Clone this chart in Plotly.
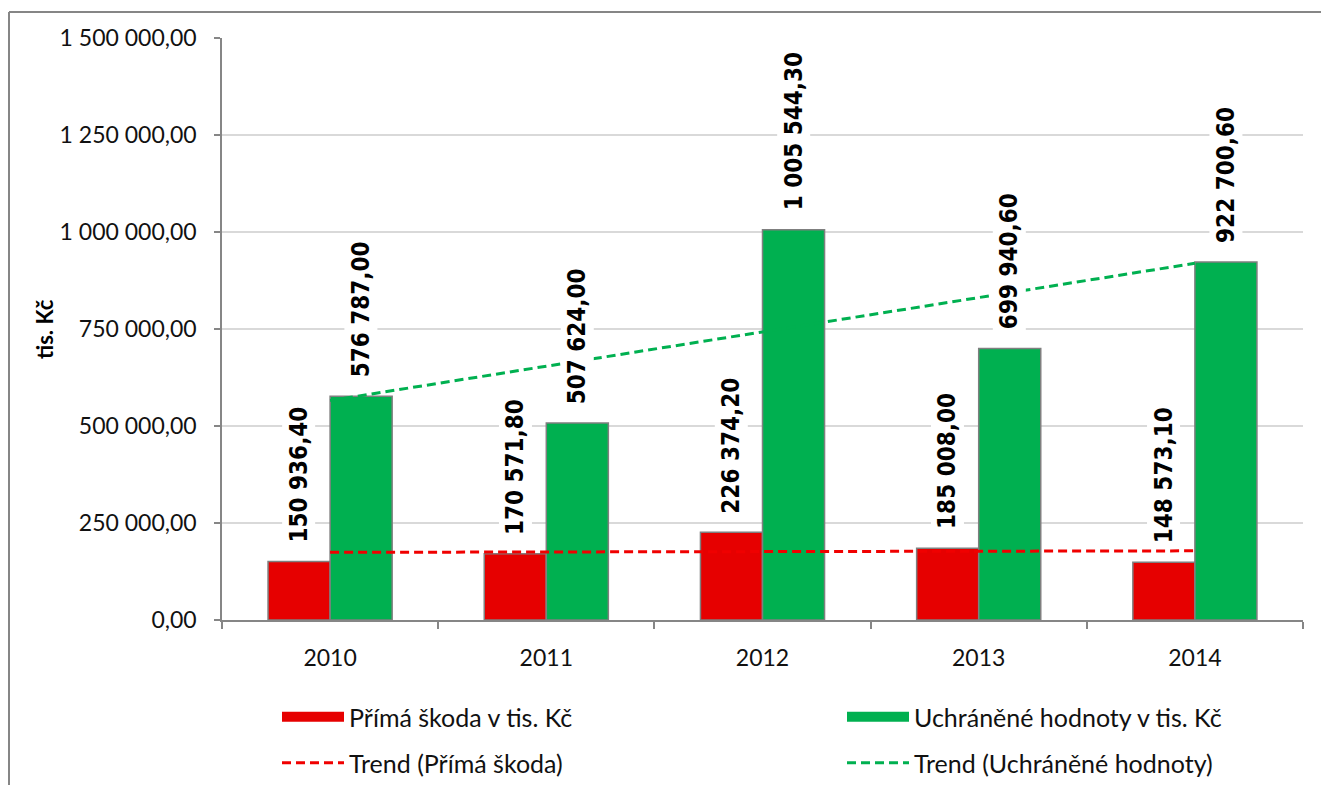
import numpy as np
import plotly.graph_objects as go

years = ["2010", "2011", "2012", "2013", "2014"]
prima_skoda = [150936.40, 170571.80, 226374.20, 185008.00, 148573.10]
uchranene = [576787.00, 507624.00, 1005544.30, 699940.60, 922700.60]
y_ticks = [0, 250000, 500000, 750000, 1000000, 1250000, 1500000]

name_red = "Přímá škoda v tis. Kč"
name_green = "Uchráněné hodnoty v tis. Kč"
name_red_trend = "Trend (Přímá škoda)"
name_green_trend = "Trend (Uchráněné hodnoty)"
y_title = "tis. Kč"


def fmt(v):
    return f"{v:,.2f}".replace(",", " ").replace(".", ",")


RED = "#E60000"
GREEN = "#00B050"
GRAY = "#868686"
TICKFONT = dict(family="Lato, Century Gothic, sans-serif", size=23, color="#111111")
LABELFONT = dict(family="Liberation Sans Narrow, DejaVu Sans Condensed, sans-serif", size=24, color="#000000")

idx = np.arange(len(years))
red_fit = np.polyval(np.polyfit(idx, prima_skoda, 1), idx)
green_fit = np.polyval(np.polyfit(idx, uchranene, 1), idx)

bargap = 0.426
bw = (1 - bargap) / 2

fig = go.Figure()
fig.add_trace(go.Bar(x=years, y=prima_skoda, name=name_red, marker=dict(color=RED, line=dict(color="#7F7F7F", width=1.5)), showlegend=False))
fig.add_trace(go.Bar(x=years, y=uchranene, name=name_green, marker=dict(color=GREEN, line=dict(color="#7F7F7F", width=1.5)), showlegend=False))
fig.add_trace(go.Scatter(x=years, y=red_fit, mode="lines", name=name_red_trend, line=dict(color="#F00000", width=3, dash="9px,5px"), showlegend=False))
fig.add_trace(go.Scatter(x=years, y=green_fit, mode="lines", name=name_green_trend, line=dict(color=GREEN, width=3, dash="9px,5px"), showlegend=False))

# legend entries (one per legend box, two columns x two rows as in the original)
fig.add_trace(go.Scatter(x=[None], y=[None], mode="lines", name=name_red, line=dict(color=RED, width=12), legend="legend"))
fig.add_trace(go.Scatter(x=[None], y=[None], mode="lines", name=name_green, line=dict(color=GREEN, width=12), legend="legend2"))
fig.add_trace(go.Scatter(x=[None], y=[None], mode="lines", name=name_red_trend, line=dict(color="#F00000", width=3, dash="9px,5px"), legend="legend3"))
fig.add_trace(go.Scatter(x=[None], y=[None], mode="lines", name=name_green_trend, line=dict(color=GREEN, width=3, dash="9px,5px"), legend="legend4"))

annotations = []
for i in range(len(years)):
    for val, off in ((prima_skoda[i], -bw / 2), (uchranene[i], bw / 2)):
        annotations.append(dict(
            x=i + off, y=val, xref="x", yref="y", text=fmt(val), showarrow=False,
            textangle=-90, xanchor="center", yanchor="bottom", yshift=16,
            font=dict(LABELFONT, weight="bold"), bgcolor="white", borderpad=2,
        ))
annotations.append(dict(
    x=(44 - 222) / 1081, y=0.5, xref="paper", yref="paper", text=f"<b>{y_title}</b>",
    showarrow=False, textangle=-90, xanchor="center", yanchor="middle",
    font=dict(family="Lato, sans-serif", size=22, color="#000000"),
))

legfont = dict(family="Lato, Century Gothic, sans-serif", size=25, color="#111111")
leg_common = dict(orientation="v", bgcolor="rgba(0,0,0,0)", font=legfont, itemwidth=62,
                  xanchor="left", yanchor="middle", borderwidth=0)
x_col1 = (277 - 222) / 1081
x_col2 = (842 - 222) / 1081
y_row1 = (620 - 717) / 582
y_row2 = (620 - 763) / 582
y_border = 1 + 26 / 582
x_border = (9 - 222) / 1081

fig.update_layout(
    width=1321, height=785,
    margin=dict(l=222, r=18, t=38, b=165, autoexpand=False),
    paper_bgcolor="white", plot_bgcolor="white",
    barmode="group", bargap=bargap, bargroupgap=0,
    annotations=annotations,
    legend=dict(leg_common, x=x_col1, y=y_row1),
    legend2=dict(leg_common, x=x_col2, y=y_row1),
    legend3=dict(leg_common, x=x_col1, y=y_row2),
    legend4=dict(leg_common, x=x_col2, y=y_row2),
    xaxis=dict(type="category", showline=True, linecolor=GRAY, linewidth=1.5,
               ticks="outside", tickson="boundaries", ticklen=7, tickcolor=GRAY, tickwidth=1.5,
               tickfont=TICKFONT, showgrid=False, ticklabelstandoff=17),
    yaxis=dict(range=[0, 1500000], tickvals=y_ticks, ticktext=[fmt(v) for v in y_ticks],
               showline=True, linecolor=GRAY, linewidth=1.5, ticks="outside", ticklen=6,
               tickcolor=GRAY, tickwidth=1.5, tickfont=TICKFONT, showgrid=True,
               gridcolor="#D9D9D9", gridwidth=1.5, zeroline=False, ticklabelstandoff=13),
    shapes=[
        dict(type="line", xref="paper", yref="paper",
             x0=x_border, x1=1.1, y0=y_border, y1=y_border,
             line=dict(color=GRAY, width=2), layer="above"),
        dict(type="line", xref="paper", yref="paper",
             x0=x_border, x1=x_border, y0=-0.4, y1=y_border,
             line=dict(color=GRAY, width=2), layer="above"),
    ],
)

fig.write_html(
    "out.html",
    config={"displayModeBar": False},
    post_script="document.body.style.margin='0';document.body.style.overflow='hidden';",
)
